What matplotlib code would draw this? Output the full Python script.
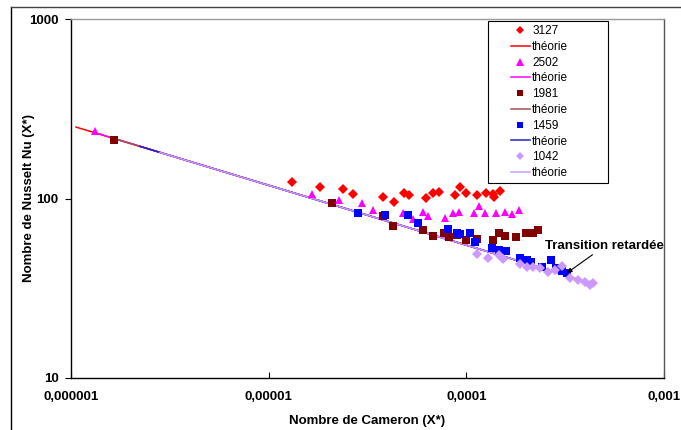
import matplotlib
matplotlib.use("Agg")
import matplotlib.pyplot as plt
from matplotlib.lines import Line2D
from matplotlib.legend_handler import HandlerLine2D

plt.rcParams['font.family'] = ['Liberation Sans', 'DejaVu Sans']

# ---- data ----
x_3127 = [1.31e-5, 1.82e-5, 2.38e-5, 2.67e-5, 3.79e-5, 4.30e-5, 4.84e-5, 5.13e-5, 6.25e-5, 6.78e-5,
          7.27e-5, 8.76e-5, 9.28e-5, 9.95e-5, 1.131e-4, 1.256e-4, 1.363e-4, 1.379e-4, 1.479e-4]
nu_3127 = [123.6, 115.9, 112.9, 105.9, 101.9, 95.6, 107.3, 104.6, 100.6, 107.3,
           108.7, 104.6, 115.9, 107.3, 104.6, 107.3, 105.9, 101.9, 110.1]

x_2502 = [1.32e-6, 1.66e-5, 2.27e-5, 2.96e-5, 3.37e-5, 4.78e-5, 5.37e-5, 6.03e-5, 6.40e-5, 7.80e-5,
          8.56e-5, 9.18e-5, 1.092e-4, 1.158e-4, 1.242e-4, 1.411e-4, 1.568e-4, 1.701e-4, 1.846e-4]
nu_2502 = [237.7, 105.9, 98.1, 94.4, 86.3, 83.0, 76.9, 84.1, 79.9, 77.9,
           83.0, 84.1, 83.0, 90.8, 83.0, 83.0, 84.1, 81.9, 86.3]

x_1981 = [1.65e-6, 2.09e-5, 3.79e-5, 4.25e-5, 6.03e-5, 6.78e-5, 7.70e-5, 8.17e-5, 8.97e-5, 9.95e-5,
          1.131e-4, 1.363e-4, 1.462e-4, 1.568e-4, 1.782e-4, 2.002e-4, 2.173e-4, 2.303e-4]
nu_1981 = [211.8, 94.4, 79.9, 70.3, 66.8, 61.8, 64.2, 61.0, 62.6, 58.7,
           59.5, 58.7, 64.2, 61.8, 61.0, 64.2, 64.2, 66.8]

x_1459 = [2.83e-5, 3.88e-5, 5.07e-5, 5.69e-5, 8.07e-5, 8.97e-5, 9.28e-5, 1.043e-4, 1.105e-4, 1.348e-4,
          1.462e-4, 1.586e-4, 1.867e-4, 2.025e-4, 2.123e-4, 2.413e-4, 2.679e-4, 2.839e-4, 3.045e-4, 3.228e-4]
nu_1459 = [83.0, 80.9, 80.9, 73.0, 67.6, 64.2, 63.4, 64.2, 57.2, 53.0,
           51.6, 51.0, 46.6, 45.5, 44.3, 41.5, 45.5, 41.0, 39.5, 38.5]

x_1042 = [1.131e-4, 1.286e-4, 1.462e-4, 1.531e-4, 1.867e-4, 2.025e-4, 2.173e-4, 2.357e-4, 2.588e-4, 2.807e-4,
          3.045e-4, 3.342e-4, 3.668e-4, 3.981e-4, 4.220e-4, 4.369e-4]
nu_1042 = [49.1, 46.6, 48.4, 46.0, 43.2, 41.5, 41.5, 41.0, 39.0, 40.0,
           42.1, 36.1, 35.2, 34.2, 33.0, 33.8]

# theory lines (end points)
xt_3127 = [1.06e-6, 1.6e-4]; nut_3127 = [250.0, 47.0]
xt_2502 = [1.32e-6, 1.9e-4]; nut_2502 = [232.8, 44.4]
xt_1981 = [1.63e-6, 2.4e-4]; nut_1981 = [216.8, 41.1]
xt_1459 = [2.23e-6, 3.3e-4]; nut_1459 = [195.3, 36.9]
xt_1042 = [2.82e-6, 4.5e-4]; nut_1042 = [180.5, 33.3]

x_ticks = [1e-6, 1e-5, 1e-4, 1e-3]
x_ticklabels = ['0,000001', '0,00001', '0,0001', '0,001']
y_ticks = [10, 100, 1000]
y_ticklabels = ['10', '100', '1000']

series_labels = ['3127', '2502', '1981', '1459', '1042']

# ---- figure ----
W, H = 681, 430
fig = plt.figure(figsize=(W / 100, H / 100), dpi=100)
ax = fig.add_axes([71 / W, (H - 378) / H, (664 - 71) / W, (378 - 19) / H])

# outer frame
fig.add_artist(Line2D([11 / W, 11 / W], [0, 1 - 7 / H], color='black', lw=1.0, transform=fig.transFigure))
fig.add_artist(Line2D([11 / W, 1.0], [1 - 7 / H, 1 - 7 / H], color='#444444', lw=1.0, transform=fig.transFigure))

pt_styles = [
    dict(marker='D', color='#FF0000', ms=5.0),
    dict(marker='^', color='#FF00FF', ms=6.0),
    dict(marker='s', color='#800000', ms=5.5),
    dict(marker='s', color='#0000FF', ms=5.5),
    dict(marker='D', color='#CC99FF', ms=5.0),
]
line_colors = ['#FF0000', '#FF00FF', '#A0504F', '#2020D0', '#CC99FF']

pts = [(x_3127, nu_3127), (x_2502, nu_2502), (x_1981, nu_1981), (x_1459, nu_1459), (x_1042, nu_1042)]
th = [(xt_3127, nut_3127), (xt_2502, nut_2502), (xt_1981, nut_1981), (xt_1459, nut_1459), (xt_1042, nut_1042)]


class OffsetHandler(HandlerLine2D):
    """Draws the legend key in the right part of the handle area (Excel-like)."""
    def __init__(self, offset_frac=0.5, **kw):
        super().__init__(**kw)
        self.offset_frac = offset_frac

    def create_artists(self, legend, orig_handle, xdescent, ydescent, width, height, fontsize, trans):
        off = width * self.offset_frac
        return super().create_artists(legend, orig_handle, xdescent - off, ydescent,
                                      width - off, height, fontsize, trans)


handles, labels = [], []
for i in range(5):
    st = pt_styles[i]
    ax.plot(pts[i][0], pts[i][1], linestyle='none', marker=st['marker'], color=st['color'],
            ms=st['ms'], mew=0, zorder=5 + i)
    ax.plot(th[i][0], th[i][1], color=line_colors[i], lw=1.1, zorder=2 + i * 0.1)
    handles.append(Line2D([], [], linestyle='none', marker=st['marker'], color=st['color'],
                          ms=st['ms'] - 0.8, mew=0))
    labels.append(series_labels[i])
    handles.append(Line2D([], [], color=line_colors[i], lw=1.1))
    labels.append('théorie')

ax.set_xscale('log')
ax.set_yscale('log')
ax.set_xlim(1e-6, 1e-3)
ax.set_ylim(10, 1000)
ax.set_xticks(x_ticks)
ax.set_xticklabels(x_ticklabels, fontsize=9.5, fontweight='bold')
ax.set_yticks(y_ticks)
ax.set_yticklabels(y_ticklabels, fontsize=9.5, fontweight='bold')
ax.minorticks_off()
ax.tick_params(axis='x', direction='in', length=4, width=0.8, pad=9)
ax.tick_params(axis='y', direction='out', length=4, width=0.8, pad=5)

for s in ['left', 'bottom']:
    ax.spines[s].set_color('black')
    ax.spines[s].set_linewidth(1.0)
ax.spines['top'].set_color('#999999')
ax.spines['right'].set_color('#555555')
ax.spines['top'].set_linewidth(1.0)
ax.spines['right'].set_linewidth(1.0)

ax.set_xlabel('Nombre de Cameron (X*)', fontsize=9.5, fontweight='bold', labelpad=9)
ax.set_ylabel('Nombre de Nusselt Nu (X*)', fontsize=9.5, fontweight='bold', labelpad=-4)

ax.annotate('Transition retardée', xy=(3.23e-4, 38.5), xytext=(5.02e-4, 54.4),
            ha='center', va='center', fontsize=9.5, fontweight='bold',
            arrowprops=dict(arrowstyle='-|>', color='black', lw=0.8, mutation_scale=7,
                            shrinkA=0, shrinkB=0), zorder=20)

lx0 = (488 - 71) / 593
lx1 = (608 - 71) / 593
ly1 = (378 - 21) / 359
ly0 = (378 - 181) / 359
hmap = {h: OffsetHandler(offset_frac=0.5) for h in handles}
leg = ax.legend(handles, labels, loc='upper left', bbox_to_anchor=(lx0, ly0, lx1 - lx0, ly1 - ly0),
                mode='expand', fontsize=8.5, frameon=True, fancybox=False, edgecolor='black',
                framealpha=1, labelspacing=0.32, handlelength=3.2, handletextpad=0.2,
                borderpad=0.35, borderaxespad=0, handler_map=hmap)
leg.get_frame().set_linewidth(0.8)

fig.savefig('out.png', dpi=100)
